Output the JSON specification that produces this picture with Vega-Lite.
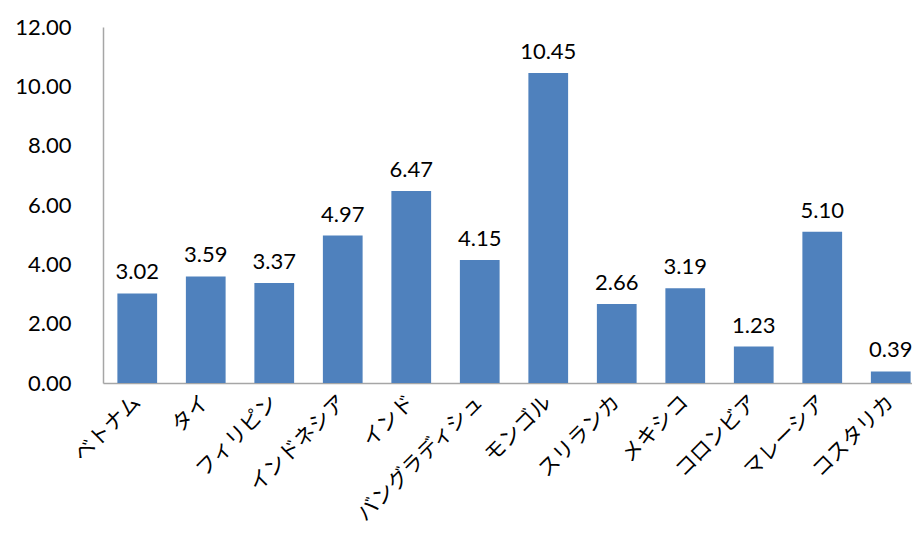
{
  "$schema": "https://vega.github.io/schema/vega-lite/v6.json",
  "autosize": "none",
  "width": 822,
  "height": 356,
  "padding": {"left": 103, "top": 27, "right": 0, "bottom": 160},
  "background": "white",
  "config": {"view": {"stroke": null}},
  "data": {"values": [
    {"country": "ベトナム", "value": 3.02},
    {"country": "タイ", "value": 3.59},
    {"country": "フィリピン", "value": 3.37},
    {"country": "インドネシア", "value": 4.97},
    {"country": "インド", "value": 6.47},
    {"country": "バングラディシュ", "value": 4.15},
    {"country": "モンゴル", "value": 10.45},
    {"country": "スリランカ", "value": 2.66},
    {"country": "メキシコ", "value": 3.19},
    {"country": "コロンビア", "value": 1.23},
    {"country": "マレーシア", "value": 5.10},
    {"country": "コスタリカ", "value": 0.39}
  ]},
  "encoding": {
    "x": {"field": "country", "type": "nominal", "sort": null,
      "scale": {"paddingInner": 0.42, "paddingOuter": 0.21},
      "axis": {"title": null, "labelAngle": -45, "labelAlign": "right", "labelBaseline": "middle", "labelFont": "Noto Sans CJK JP", "labelFontSize": 21, "labelFontWeight": "normal", "labelColor": "black", "ticks": false, "labelPadding": 16, "domainColor": "#a6a6a6", "domainWidth": 1.5}},
    "y": {"field": "value", "type": "quantitative",
      "scale": {"domain": [0, 12]},
      "axis": {"title": null, "values": [0, 2, 4, 6, 8, 10, 12], "format": ".2f", "grid": false, "ticks": false, "labelFont": "Lato", "labelFontSize": 22, "labelColor": "black", "labelPadding": 32, "domainColor": "#a6a6a6", "domainWidth": 1.5}}
  },
  "layer": [
    {"mark": {"type": "bar", "color": "#4f81bd"}},
    {"mark": {"type": "text", "baseline": "bottom", "dy": -9, "font": "Lato", "fontSize": 22, "color": "black"},
     "encoding": {"text": {"field": "value", "type": "quantitative", "format": ".2f"}}}
  ]
}
